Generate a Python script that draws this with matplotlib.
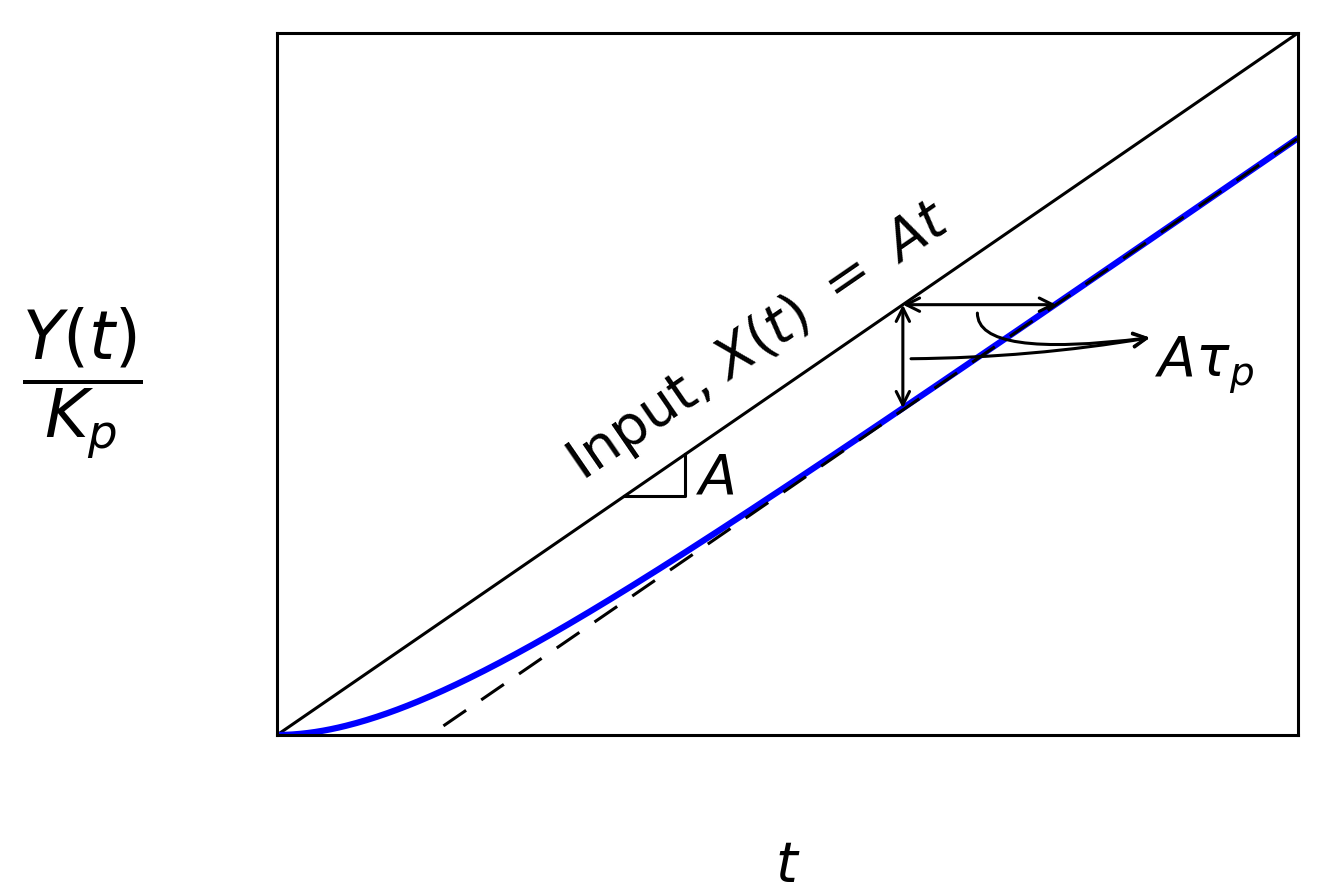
import numpy as np
import matplotlib
matplotlib.use("Agg")
from matplotlib import pyplot as plt

plt.rcParams['mathtext.fontset'] = 'dejavusans'
plt.rcParams['font.family'] = ['DejaVu Sans']

# ramp response of a first order process
A = 1.0          # slope of the input ramp
tau_p = 1.5      # time constant
t_end = 10.0
t_mark = 6.13    # where the lag arrows are drawn
t_dash0 = 1.63   # dashed asymptote starts here
tri_t = [3.4, 4.0]   # slope triangle
tip = (8.55, 5.66)   # arrow tip next to the A*tau label
start_low = (6.21, 5.36)   # lower curved arrow start
start_arc = (6.86, 6.01)   # curved arrow start (angle mark)

t = np.linspace(0, t_end, 400)
x_in = A * t
y_out = A * (t - tau_p * (1 - np.exp(-t / tau_p)))
t_d = np.linspace(t_dash0, t_end, 50)
y_asym = A * (t_d - tau_p)

fig = plt.figure(figsize=(13.37, 8.92), dpi=100)
ax = fig.add_axes([0.2072, 0.176, 0.7636, 0.787])

ax.plot(t, x_in, color='black', lw=2.2)
ax.plot(t, y_out, color='blue', lw=4.5)
ax.plot(t_d, y_asym, color='black', lw=2.2, ls=(0, (9, 6)))

# slope triangle
ax.plot([tri_t[0], tri_t[1], tri_t[1]], [A * tri_t[0], A * tri_t[0], A * tri_t[1]], color='black', lw=2.2)
ax.text(tri_t[1] + 0.1, A * (tri_t[0] + tri_t[1]) / 2 - 0.05, r'$A$', fontsize=40, ha='left', va='center')

# lag arrows
y_mark = A * t_mark
y_mark_out = A * (t_mark - tau_p * (1 - np.exp(-t_mark / tau_p)))
ax.annotate('', xy=(t_mark, y_mark_out), xytext=(t_mark, y_mark),
            arrowprops=dict(arrowstyle='<->', color='black', lw=2.2, shrinkA=0, shrinkB=0, mutation_scale=24))
ax.annotate('', xy=(t_mark + tau_p, y_mark), xytext=(t_mark, y_mark),
            arrowprops=dict(arrowstyle='<->', color='black', lw=2.2, shrinkA=0, shrinkB=0, mutation_scale=24))

ax.annotate('', xy=tip, xytext=start_low,
            arrowprops=dict(arrowstyle='->', color='black', lw=2.2, shrinkA=0, shrinkB=0,
                            mutation_scale=24, connectionstyle='arc3,rad=0.04'))
ax.annotate('', xy=tip, xytext=start_arc,
            arrowprops=dict(arrowstyle='->', color='black', lw=2.2, shrinkA=0, shrinkB=0,
                            mutation_scale=24, connectionstyle='angle3,angleA=-90,angleB=7'))
ax.text(tip[0] + 0.05, tip[1] - 0.4, r'$A\tau_p$', fontsize=40, ha='left', va='center')

ang = np.degrees(np.arctan2(A * 702 / 10, 1021 / 10))
ax.text(4.72, 5.6, r'Input, $X(t)\ =\ At$', fontsize=40, rotation=ang,
        ha='center', va='center', rotation_mode='anchor')

ax.set_xlim(0, t_end)
ax.set_ylim(0, A * t_end)
ax.set_xticks([])
ax.set_yticks([])
for s in ax.spines.values():
    s.set_linewidth(2.2)

ax.set_xlabel(r'$t$', fontsize=40, labelpad=75)
ax.set_ylabel(r'$\dfrac{Y(t)}{K_p}$', fontsize=48, rotation=0, labelpad=140, va='center')

fig.savefig('out.png', dpi=100)
